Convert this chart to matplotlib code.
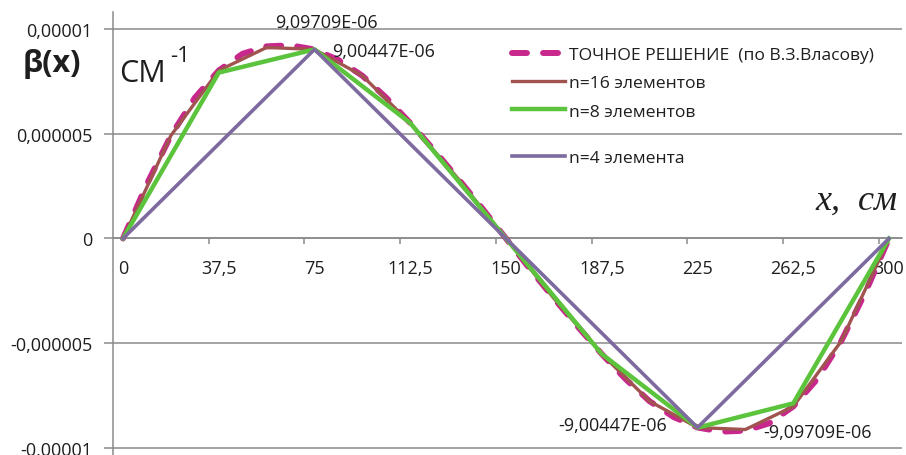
import matplotlib.pyplot as plt

plt.rcParams['font.family'] = ['Open Sans', 'DejaVu Sans']

# exact solution (по В.З.Власову)
x_exact = [0, 9.375, 18.75, 28.125, 37.5, 46.875, 56.25, 65.625, 75,
           84.375, 93.75, 103.125, 112.5, 121.875, 131.25, 140.625, 150,
           159.375, 168.75, 178.125, 187.5, 196.875, 206.25, 215.625, 225,
           234.375, 243.75, 253.125, 262.5, 271.875, 281.25, 290.625, 300]
beta_exact = [0, 2.6e-6, 4.9e-6, 6.7e-6, 8.0e-6, 8.8e-6, 9.15e-6, 9.2e-6, 9.0e-6,
              8.5e-6, 7.75e-6, 6.7e-6, 5.5e-6, 4.2e-6, 2.85e-6, 1.45e-6, 0,
              -1.45e-6, -2.85e-6, -4.2e-6, -5.5e-6, -6.7e-6, -7.75e-6, -8.5e-6, -9.0e-6,
              -9.2e-6, -9.15e-6, -8.8e-6, -8.0e-6, -6.7e-6, -4.9e-6, -2.6e-6, 0]

x_16 = [0, 18.75, 37.5, 56.25, 75, 93.75, 112.5, 131.25, 150,
        168.75, 187.5, 206.25, 225, 243.75, 262.5, 281.25, 300]
beta_16 = [0, 4.9e-6, 8.0e-6, 9.09709e-6, 9.00447e-6, 7.75e-6, 5.5e-6, 2.85e-6, 0,
           -2.85e-6, -5.5e-6, -7.75e-6, -9.00447e-6, -9.09709e-6, -8.0e-6, -4.9e-6, 0]

x_8 = [0, 37.5, 75, 112.5, 150, 187.5, 225, 262.5, 300]
beta_8 = [0, 7.9e-6, 9.00447e-6, 5.5e-6, 0, -5.5e-6, -9.00447e-6, -7.85e-6, 0]

x_4 = [0, 75, 150, 225, 300]
beta_4 = [0, 9.00447e-6, 0, -9.00447e-6, 0]

x_ticks = [0, 37.5, 75, 112.5, 150, 187.5, 225, 262.5, 300]
x_tick_labels = ['0', '37,5', '75', '112,5', '150', '187,5', '225', '262,5', '300']
y_ticks = [-1e-5, -5e-6, 0, 5e-6, 1e-5]
y_tick_labels = ['-0,00001', '-0,000005', '0', '0,000005', '0,00001']

labels = ['ТОЧНОЕ РЕШЕНИЕ  (по В.З.Власову)', 'n=16 элементов',
          'n=8 элементов', 'n=4 элемента']

W, H = 906, 456
fig = plt.figure(figsize=(W / 100, H / 100), dpi=100)
fig.patch.set_facecolor('white')
ax = fig.add_axes([113 / W, 0, 789 / W, 443 / H])

grey = '#8a8a8a'
txt = '#1e1e1e'

l_ex, = ax.plot(x_exact, beta_exact, color='#c8288c', lw=4.3,
                dashes=(2.5, 2.7), dash_capstyle='round', zorder=3)
l_16, = ax.plot(x_16, beta_16, color='#a0534f', lw=2.4, zorder=4)
l_8, = ax.plot(x_8, beta_8, color='#5cc43c', lw=3.2, zorder=5)
l_4, = ax.plot(x_4, beta_4, color='#7d6a9e', lw=2.6, zorder=6)

ax.set_xlim(-3.92, 305.1)
ax.set_ylim(-1.031e-5, 1.0786e-5)

for s in ['top', 'right']:
    ax.spines[s].set_visible(False)
ax.spines['bottom'].set_position(('data', 0))
ax.spines['bottom'].set_color(grey)
ax.spines['left'].set_color(grey)
ax.spines['bottom'].set_linewidth(1.1)
ax.spines['left'].set_linewidth(1.1)

ax.set_xticks(x_ticks)
ax.set_xticklabels(x_tick_labels)
ax.set_xticks([t - 3.92 for t in x_ticks[1:]], minor=True)
ax.tick_params(axis='x', which='major', length=0, pad=14.5, labelsize=13, labelcolor=txt)
ax.tick_params(axis='x', which='minor', length=4, width=1.1, color=grey, direction='out')

ax.set_yticks(y_ticks)
ax.set_yticklabels(y_tick_labels)
ax.tick_params(axis='y', length=6.5, width=1.1, color=grey, pad=8.5, labelsize=13,
               labelcolor=txt)
ax.yaxis.grid(True, color=grey, lw=1.1)
ax.set_axisbelow(True)

# value labels
ax.text(79.5, 1.033e-5, '9,09709E-06', ha='center', va='center', fontsize=13, color=txt)
ax.text(81.9, 0.893e-5, '9,00447E-06', ha='left', va='center', fontsize=13, color=txt)
ax.text(213.1, -0.890e-5, '-9,00447E-06', ha='right', va='center', fontsize=13, color=txt)
ax.text(250.7, -0.921e-5, '-9,09709E-06', ha='left', va='center', fontsize=13, color=txt)

leg1 = ax.legend([l_ex, l_16, l_8], labels[:3], loc='upper left',
                 bbox_to_anchor=(512 / W, 1 - 48 / H), bbox_transform=fig.transFigure,
                 frameon=False, fontsize=12.6, handlelength=3.0, handletextpad=0.25,
                 labelspacing=0.68, borderpad=0, borderaxespad=0)
for t in leg1.get_texts():
    t.set_color(txt)
ax.add_artist(leg1)
leg2 = ax.legend([l_4], labels[3:], loc='upper left',
                 bbox_to_anchor=(512 / W, 1 - 151 / H), bbox_transform=fig.transFigure,
                 frameon=False, fontsize=12.6, handlelength=3.0, handletextpad=0.25,
                 borderpad=0, borderaxespad=0)
for t in leg2.get_texts():
    t.set_color(txt)

# axis titles
fig.text(52 / W, 1 - 64 / H, 'β(x)', ha='center', va='center', fontsize=22,
         weight='bold', color=txt)
fig.text(119 / W, 1 - 82 / H, 'СМ', ha='left', va='baseline', fontsize=22, color=txt)
fig.text(170 / W, 1 - 46 / H, '-1', ha='left', va='top', fontsize=16, color=txt)
fig.text(815 / W, 1 - 210 / H, 'x,  см', ha='left', va='baseline', fontsize=26,
         style='italic', family=['Liberation Serif', 'DejaVu Serif'], color=txt)

fig.savefig('out.png', dpi=100, facecolor='white')
